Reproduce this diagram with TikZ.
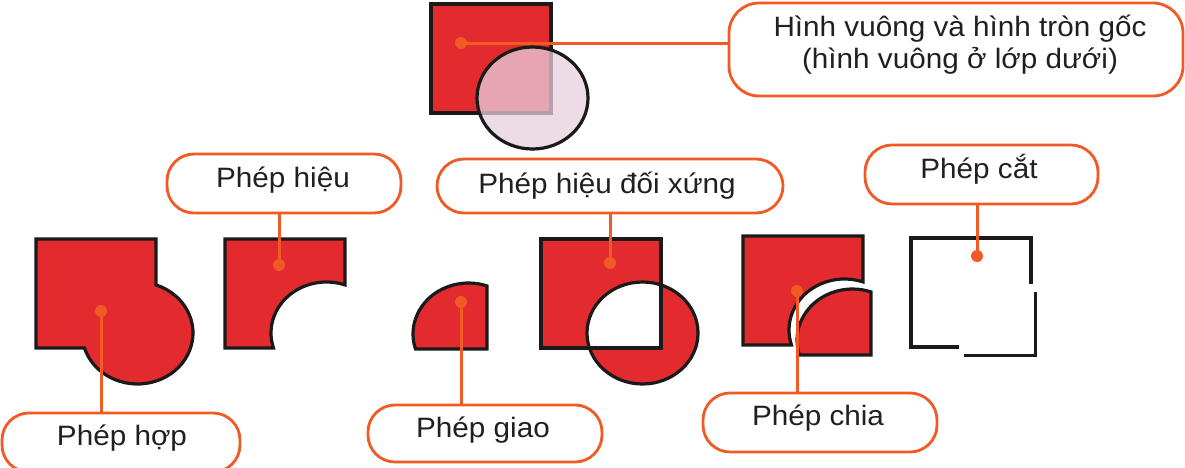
\documentclass[tikz,border=0pt]{standalone}
\usepackage{fontspec}
\setmainfont{Liberation Sans}[FakeStretch=1.06]
\definecolor{shapered}{RGB}{226,42,47}
\definecolor{ink}{RGB}{26,26,26}
\definecolor{lineorange}{RGB}{241,90,36}
\definecolor{txt}{RGB}{35,31,32}
\definecolor{circpink}{RGB}{231,208,222}
\begin{document}
\begin{tikzpicture}[x=1pt,y=-1pt,
  shapeline/.style={draw=ink, line width=3.2pt},
  opbox/.style={draw=lineorange, line width=2.8pt, rounded corners=27pt, fill=white, inner sep=0pt},
  optext/.style={font=\fontsize{28}{33}\selectfont, text=txt, inner sep=0pt, anchor=base},
  conn/.style={draw=lineorange, line width=3pt},
  dot/.style={circle, fill=lineorange, minimum size=12pt, inner sep=0pt}]
\useasboundingbox (0,0) rectangle (1185,467);

% ---------- shapes ----------
% original square and circle
\begin{scope}[shift={(431,4)}]
  \path[shapeline, fill=shapered] (0,0) rectangle (120,109);
  \path[fill=circpink, fill opacity=0.75] (101.5,94) ellipse [x radius=55.5, y radius=51];
  \path[shapeline] (101.5,94) ellipse [x radius=55.5, y radius=51];
\end{scope}
% union
\begin{scope}[shift={(36,239)}]
  \path[shapeline, fill=shapered] (0,0) -- (120,0) -- (120,45.9)
    arc[start angle=-70.53, end angle=162.9, x radius=55.5, y radius=51] -- (0,109) -- cycle;
\end{scope}
% difference
\begin{scope}[shift={(225,239)}]
  \path[shapeline, fill=shapered] (0,0) -- (120,0) -- (120,45.9)
    arc[start angle=-70.53, end angle=-197.1, x radius=55.5, y radius=51] -- (0,109) -- cycle;
\end{scope}
% intersection
\begin{scope}[shift={(367,240)}]
  \path[shapeline, fill=shapered] (48.45,109)
    arc[start angle=162.9, end angle=289.47, x radius=55.5, y radius=51] -- (120,109) -- cycle;
\end{scope}
% symmetric difference
\begin{scope}[shift={(541,239)}]
  \path[fill=shapered, even odd rule] (0,0) rectangle (120,109) (101.5,94) ellipse [x radius=55.5, y radius=51];
  \path[shapeline] (0,0) rectangle (120,109);
  \path[shapeline] (101.5,94) ellipse [x radius=55.5, y radius=51];
\end{scope}
% division
\begin{scope}[shift={(743,236)}]
  \path[shapeline, fill=shapered] (0,0) -- (120,0) -- (120,45.9)
    arc[start angle=-70.53, end angle=-197.1, x radius=55.5, y radius=51] -- (0,109) -- cycle;
\end{scope}
\begin{scope}[shift={(751,246)}]
  \path[shapeline, fill=shapered] (48.45,109)
    arc[start angle=162.9, end angle=289.47, x radius=55.5, y radius=51] -- (120,109) -- cycle;
\end{scope}
% cut
\begin{scope}[shift={(911,238)}]
  \path[shapeline] (48.45,109) -- (0,109) -- (0,0) -- (120,0) -- (120,45.9);
  \path[shapeline] (53.45,117.5) -- (124.5,117.5) -- (124.5,54.4);
\end{scope}

% ---------- dots ----------
\node[dot] (dOrig) at (461,43) {};
\node[dot] (dHop) at (101,311) {};
\node[dot] (dHieu) at (279,265) {};
\node[dot] (dGiao) at (461,302) {};
\node[dot] (dHdx) at (610,263) {};
\node[dot] (dChia) at (797,291) {};
\node[dot] (dCat) at (977,256) {};

% ---------- boxes ----------
\node[opbox, rounded corners=30pt, minimum width=454pt, minimum height=93pt] (bTop) at (956,49.5) {};
\node[opbox, minimum width=234pt, minimum height=59pt] (bHieu) at (284,183.5) {};
\node[opbox, minimum width=346pt, minimum height=54pt] (bHdx) at (610,186) {};
\node[opbox, minimum width=233pt, minimum height=59pt] (bCat) at (981.5,174.5) {};
\node[opbox, minimum width=238pt, minimum height=59pt] (bHop) at (121,442.5) {};
\node[opbox, minimum width=234pt, minimum height=57pt] (bGiao) at (485,433.5) {};
\node[opbox, minimum width=234pt, minimum height=59pt] (bChia) at (820,422.5) {};

% ---------- texts ----------
\node[optext] (tTop1) at (960,36) {Hình vuông và hình tròn gốc};
\node[optext] (tTop2) at (960,68) {(hình vuông ở lớp dưới)};
\node[optext] (tHieu) at (283,187) {Phép hiệu};
\node[optext] (tHdx) at (607,193) {Phép hiệu đối xứng};
\node[optext] (tCat) at (979,178) {Phép cắt};
\node[optext] (tHop) at (122,445) {Phép hợp};
\node[optext] (tGiao) at (483,437) {Phép giao};
\node[optext] (tChia) at (818,425) {Phép chia};

% ---------- connectors ----------
\draw[conn] (dOrig.center) -- (dOrig.center -| bTop.west);
\draw[conn] (dHop.center) -- (dHop.center |- bHop.north);
\draw[conn] (dHieu.center) -- (dHieu.center |- bHieu.south);
\draw[conn] (dGiao.center) -- (dGiao.center |- bGiao.north);
\draw[conn] (dHdx.center) -- (dHdx.center |- bHdx.south);
\draw[conn] (dChia.center) -- (dChia.center |- bChia.north);
\draw[conn] (dCat.center) -- (dCat.center |- bCat.south);
\end{tikzpicture}
\end{document}
